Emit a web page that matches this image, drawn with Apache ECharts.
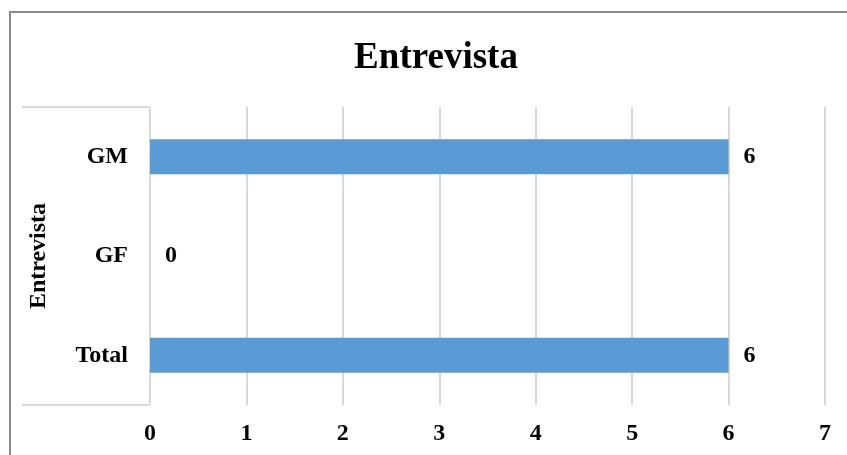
<!DOCTYPE html>
<html>
<head>
<meta charset="utf-8">
<script src="https://cdn.jsdelivr.net/npm/echarts@6/dist/echarts.min.js"></script>
<style>
  html, body { margin: 0; padding: 0; background: #fff; overflow: hidden; }
  #wrap { position: relative; width: 847px; height: 455px; }
  #chart { width: 847px; height: 455px; }
  #frame { position: absolute; left: 9px; top: 11px; width: 900px; height: 500px;
           border: 2px solid #8a8a8a; box-sizing: border-box; pointer-events: none; }
</style>
</head>
<body>
<div id="wrap">
  <div id="chart"></div>
  <div id="frame"></div>
</div>
<script>
// Interview counts per group
const categories = ['Total', 'GF', 'GM'];
const values = [6, 0, 6];
const groupLabel = ['Entrevista'];
const xTicks = { min: 0, max: 7, interval: 1 };

const serif = '"Liberation Serif", "Times New Roman", serif';
const chart = echarts.init(document.getElementById('chart'));

chart.setOption({
  backgroundColor: '#ffffff',
  animation: false,
  title: {
    text: 'Entrevista',
    left: 431,
    top: 35,
    textAlign: 'center',
    textStyle: { fontFamily: serif, fontWeight: 'bold', fontSize: 37, color: '#000' }
  },
  grid: { left: 150, right: 22, top: 107, bottom: 50 },
  xAxis: {
    type: 'value',
    min: xTicks.min,
    max: xTicks.max,
    interval: xTicks.interval,
    axisLine: { show: false },
    axisTick: { show: false },
    axisLabel: { margin: 17, fontFamily: serif, fontWeight: 'bold', fontSize: 24, color: '#000' },
    splitLine: { show: true, lineStyle: { color: '#d9d9d9', width: 2 } }
  },
  yAxis: [
    {
      type: 'category',
      data: categories,
      axisLine: { show: false },
      axisTick: { show: false },
      axisLabel: { margin: 22, fontFamily: serif, fontWeight: 'bold', fontSize: 24, color: '#000' }
    },
    {
      // outer group level: its boundary ticks frame the category labels
      type: 'category',
      position: 'left',
      data: groupLabel,
      axisLine: { show: false },
      axisTick: { show: true, length: 128, lineStyle: { color: '#d9d9d9', width: 2 } },
      axisLabel: { show: false },
      name: 'Entrevista',
      nameLocation: 'middle',
      nameRotate: 90,
      nameGap: 99,
      nameTextStyle: { fontFamily: serif, fontWeight: 'bold', fontSize: 24, color: '#000' }
    }
  ],
  series: [{
    type: 'bar',
    data: values,
    barWidth: 35,
    itemStyle: { color: '#5b9bd5' },
    label: {
      show: true,
      position: 'right',
      distance: 15,
      fontFamily: serif,
      fontWeight: 'bold',
      fontSize: 24,
      color: '#000'
    }
  }]
});
</script>
</body>
</html>
